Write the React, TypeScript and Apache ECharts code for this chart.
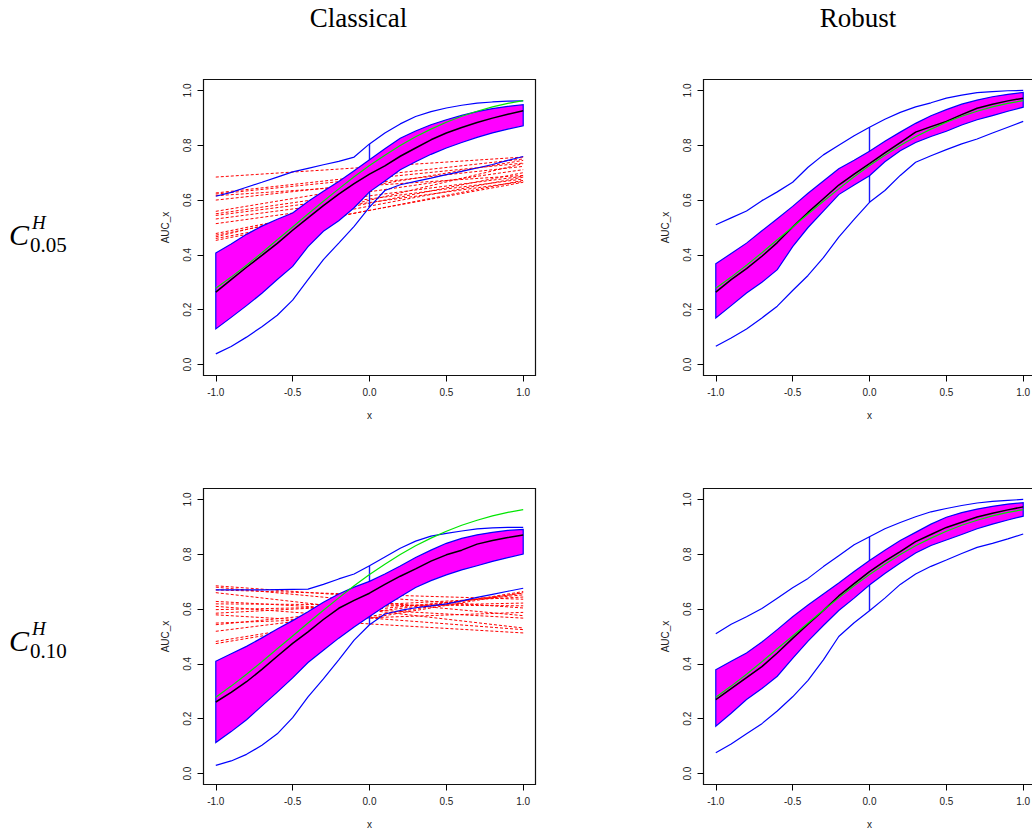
import React, { useEffect, useRef } from "react";
import * as echarts from "echarts";

// ---- shared x grid and tick labels ----
const XS = [-1, -0.9, -0.8, -0.7, -0.6, -0.5, -0.4, -0.3, -0.2, -0.1, 0, 0.1, 0.2, 0.3, 0.4, 0.5, 0.6, 0.7, 0.8, 0.9, 1];
const X_TICKS = [-1, -0.5, 0, 0.5, 1];
const Y_TICKS = [0, 0.2, 0.4, 0.6, 0.8, 1];
const COL_TITLES = ["Classical", "Robust"];
const ROW_SUBSCRIPTS = ["0.05", "0.10"];

// ---- true AUC curve (green), same in every panel ----
const TRUE_AUC = [0.278, 0.319, 0.362, 0.408, 0.455, 0.502, 0.549, 0.596, 0.641, 0.685, 0.726, 0.764, 0.799, 0.831, 0.859, 0.884, 0.906, 0.924, 0.94, 0.953, 0.963];

// ---- Classical, C 0.05 ----
const TL_UPPER_OUTER = [0.614, 0.628, 0.647, 0.665, 0.684, 0.703, 0.716, 0.729, 0.741, 0.757, 0.805, 0.845, 0.878, 0.905, 0.923, 0.936, 0.946, 0.954, 0.958, 0.961, 0.962];
const TL_LOWER_OUTER = [0.039, 0.066, 0.1, 0.138, 0.18, 0.235, 0.31, 0.383, 0.443, 0.504, 0.574, 0.635, 0.656, 0.668, 0.68, 0.693, 0.705, 0.717, 0.73, 0.745, 0.759];
const TL_BAND_UPPER = [0.407, 0.44, 0.475, 0.505, 0.53, 0.553, 0.595, 0.632, 0.668, 0.707, 0.747, 0.787, 0.826, 0.852, 0.875, 0.893, 0.909, 0.923, 0.934, 0.942, 0.948];
const TL_BAND_LOWER = [0.13, 0.172, 0.215, 0.26, 0.31, 0.358, 0.43, 0.486, 0.525, 0.572, 0.63, 0.67, 0.711, 0.74, 0.767, 0.79, 0.81, 0.829, 0.845, 0.859, 0.871];
const TL_CENTRE = [0.264, 0.31, 0.355, 0.398, 0.442, 0.49, 0.535, 0.58, 0.622, 0.66, 0.695, 0.725, 0.76, 0.79, 0.82, 0.845, 0.865, 0.883, 0.899, 0.913, 0.926];
const TL_RED_START = [0.684, 0.626, 0.622, 0.616, 0.6, 0.559, 0.55, 0.544, 0.531, 0.514, 0.478, 0.472, 0.466, 0.46, 0.453];
const TL_RED_END = [0.757, 0.75, 0.735, 0.69, 0.723, 0.745, 0.711, 0.687, 0.677, 0.668, 0.7, 0.684, 0.733, 0.665, 0.672];

// ---- Robust, C 0.05 ----
const TR_UPPER_OUTER = [0.51, 0.535, 0.56, 0.598, 0.63, 0.665, 0.72, 0.765, 0.8, 0.835, 0.866, 0.895, 0.92, 0.94, 0.955, 0.972, 0.983, 0.992, 0.996, 0.999, 1.0];
const TR_LOWER_OUTER = [0.067, 0.097, 0.13, 0.17, 0.213, 0.27, 0.325, 0.39, 0.465, 0.53, 0.592, 0.635, 0.69, 0.738, 0.762, 0.784, 0.805, 0.823, 0.845, 0.866, 0.887];
const TR_BAND_UPPER = [0.368, 0.405, 0.443, 0.488, 0.532, 0.577, 0.625, 0.67, 0.714, 0.745, 0.778, 0.815, 0.848, 0.88, 0.908, 0.93, 0.95, 0.965, 0.977, 0.986, 0.993];
const TR_BAND_LOWER = [0.17, 0.215, 0.261, 0.3, 0.346, 0.43, 0.5, 0.56, 0.62, 0.655, 0.689, 0.74, 0.78, 0.81, 0.832, 0.851, 0.874, 0.893, 0.908, 0.924, 0.939];
const TR_CENTRE = [0.264, 0.31, 0.35, 0.395, 0.445, 0.502, 0.555, 0.605, 0.655, 0.695, 0.733, 0.772, 0.81, 0.848, 0.868, 0.887, 0.912, 0.935, 0.95, 0.962, 0.972];

// ---- Classical, C 0.10 ----
const BL_UPPER_OUTER = [0.67, 0.67, 0.67, 0.67, 0.671, 0.672, 0.673, 0.69, 0.71, 0.728, 0.758, 0.79, 0.822, 0.848, 0.866, 0.876, 0.885, 0.893, 0.896, 0.898, 0.898];
const BL_LOWER_OUTER = [0.03, 0.046, 0.07, 0.103, 0.145, 0.204, 0.28, 0.345, 0.415, 0.487, 0.543, 0.582, 0.595, 0.605, 0.612, 0.619, 0.63, 0.643, 0.654, 0.665, 0.676];
const BL_BAND_UPPER = [0.41, 0.437, 0.464, 0.495, 0.527, 0.558, 0.59, 0.625, 0.655, 0.68, 0.701, 0.728, 0.757, 0.788, 0.815, 0.84, 0.858, 0.871, 0.88, 0.887, 0.891];
const BL_BAND_LOWER = [0.113, 0.153, 0.196, 0.247, 0.297, 0.349, 0.405, 0.45, 0.494, 0.535, 0.573, 0.61, 0.645, 0.679, 0.704, 0.725, 0.743, 0.758, 0.774, 0.788, 0.801];
const BL_CENTRE = [0.261, 0.296, 0.335, 0.38, 0.428, 0.475, 0.517, 0.562, 0.603, 0.632, 0.658, 0.69, 0.72, 0.747, 0.775, 0.798, 0.815, 0.837, 0.85, 0.861, 0.87];
const BL_RED_START = [0.685, 0.68, 0.67, 0.66, 0.628, 0.619, 0.61, 0.598, 0.585, 0.579, 0.549, 0.543, 0.519, 0.482, 0.474];
const BL_RED_END = [0.604, 0.576, 0.636, 0.531, 0.567, 0.612, 0.525, 0.622, 0.644, 0.513, 0.588, 0.652, 0.658, 0.664, 0.66];

// ---- Robust, C 0.10 ----
const BR_UPPER_OUTER = [0.51, 0.545, 0.572, 0.602, 0.64, 0.678, 0.712, 0.755, 0.795, 0.835, 0.864, 0.893, 0.916, 0.937, 0.955, 0.967, 0.978, 0.987, 0.993, 0.997, 1.0];
const BR_LOWER_OUTER = [0.076, 0.108, 0.145, 0.182, 0.228, 0.28, 0.34, 0.415, 0.5, 0.55, 0.594, 0.64, 0.69, 0.728, 0.756, 0.779, 0.803, 0.825, 0.84, 0.856, 0.874];
const BR_BAND_UPPER = [0.379, 0.41, 0.44, 0.48, 0.525, 0.572, 0.615, 0.655, 0.695, 0.737, 0.777, 0.815, 0.85, 0.88, 0.91, 0.935, 0.952, 0.965, 0.975, 0.983, 0.988];
const BR_BAND_LOWER = [0.173, 0.22, 0.27, 0.31, 0.355, 0.42, 0.483, 0.54, 0.595, 0.64, 0.688, 0.73, 0.768, 0.805, 0.832, 0.852, 0.872, 0.893, 0.91, 0.925, 0.939];
const BR_CENTRE = [0.27, 0.31, 0.35, 0.39, 0.44, 0.493, 0.545, 0.595, 0.648, 0.693, 0.737, 0.775, 0.81, 0.846, 0.872, 0.898, 0.917, 0.936, 0.95, 0.962, 0.973];

const PANELS = [
  { upperOuter: TL_UPPER_OUTER, lowerOuter: TL_LOWER_OUTER, bandUpper: TL_BAND_UPPER, bandLower: TL_BAND_LOWER, centre: TL_CENTRE, redStart: TL_RED_START, redEnd: TL_RED_END, left: 203.5, top: 79.5 },
  { upperOuter: TR_UPPER_OUTER, lowerOuter: TR_LOWER_OUTER, bandUpper: TR_BAND_UPPER, bandLower: TR_BAND_LOWER, centre: TR_CENTRE, redStart: null, redEnd: null, left: 703.5, top: 79.5 },
  { upperOuter: BL_UPPER_OUTER, lowerOuter: BL_LOWER_OUTER, bandUpper: BL_BAND_UPPER, bandLower: BL_BAND_LOWER, centre: BL_CENTRE, redStart: BL_RED_START, redEnd: BL_RED_END, left: 203.5, top: 488.5 },
  { upperOuter: BR_UPPER_OUTER, lowerOuter: BR_LOWER_OUTER, bandUpper: BR_BAND_UPPER, bandLower: BR_BAND_LOWER, centre: BR_CENTRE, redStart: null, redEnd: null, left: 703.5, top: 488.5 },
];

const GRID_W = 332;
const GRID_H = 296;
const SANS = "Liberation Sans, Arial, Helvetica, sans-serif";
const SERIF = "Liberation Serif, Times New Roman, serif";

function pairs(ys: number[]) {
  return XS.map((x, i) => [x, ys[i]]);
}

function buildOption() {
  const grid: any[] = [];
  const xAxis: any[] = [];
  const yAxis: any[] = [];
  const series: any[] = [];
  const zeroIdx = XS.indexOf(0);

  PANELS.forEach((p, g) => {
    grid.push({
      left: p.left,
      top: p.top,
      width: GRID_W,
      height: GRID_H,
      show: true,
      borderColor: "#111",
      borderWidth: 1.2,
      backgroundColor: "transparent",
      containLabel: false,
      outerBoundsMode: "none",
    });
    xAxis.push({
      type: "value",
      gridIndex: g,
      min: -1.08,
      max: 1.08,
      axisLine: { show: false, onZero: false },
      splitLine: { show: false },
      axisTick: { show: true, customValues: X_TICKS, length: 6, lineStyle: { color: "#000", width: 1 } },
      axisLabel: {
        customValues: X_TICKS,
        formatter: (v: number) => v.toFixed(1),
        fontSize: 10,
        fontFamily: SANS,
        color: "#222",
        margin: 12,
      },
      name: "x",
      nameLocation: "middle",
      nameGap: 35,
      nameTextStyle: { fontSize: 10, fontFamily: SANS, color: "#222" },
    });
    yAxis.push({
      type: "value",
      gridIndex: g,
      min: -0.04,
      max: 1.04,
      axisLine: { show: false, onZero: false },
      splitLine: { show: false },
      axisTick: { show: true, customValues: Y_TICKS, length: 6, lineStyle: { color: "#000", width: 1 } },
      axisLabel: {
        customValues: Y_TICKS,
        formatter: (v: number) => v.toFixed(1),
        fontSize: 10,
        fontFamily: SANS,
        color: "#222",
        margin: 11,
        rotate: 90,
      },
      name: "AUC_x",
      nameLocation: "middle",
      nameGap: 33,
      nameRotate: 90,
      nameTextStyle: { fontSize: 10, fontFamily: SANS, color: "#222" },
    });

    const common = { xAxisIndex: g, yAxisIndex: g, symbol: "none", silent: true, animation: false };

    if (p.redStart && p.redEnd) {
      p.redStart.forEach((s, j) => {
        series.push({
          ...common,
          type: "line",
          z: 1,
          data: [[XS[0], s], [XS[XS.length - 1], (p.redEnd as number[])[j]]],
          lineStyle: { color: "#FF0000", width: 1, type: [3, 2] },
        });
      });
    }

    // vertical segment at x = 0 between the outer envelopes
    series.push({
      ...common,
      type: "line",
      z: 1,
      data: [[XS[zeroIdx], p.upperOuter[zeroIdx]], [XS[zeroIdx], p.lowerOuter[zeroIdx]]],
      lineStyle: { color: "#1a1aff", width: 1.4 },
    });

    // magenta band polygon
    const poly = [...pairs(p.bandUpper), ...pairs(p.bandLower).reverse()];
    series.push({
      type: "custom",
      xAxisIndex: g,
      yAxisIndex: g,
      silent: true,
      z: 2,
      data: poly,
      renderItem: (params: any, api: any) => {
        if (params.dataIndex !== 0) return { type: "group", children: [] };
        const pts = poly.map((pt) => api.coord(pt));
        return {
          type: "polygon",
          shape: { points: pts },
          style: { fill: "#FF00FF", stroke: "#0000FF", lineWidth: 1.2 },
        };
      },
    });

    series.push({ ...common, type: "line", z: 3, data: pairs(p.upperOuter), lineStyle: { color: "#0000FF", width: 1.2 } });
    series.push({ ...common, type: "line", z: 3, data: pairs(p.lowerOuter), lineStyle: { color: "#0000FF", width: 1.2 } });
    series.push({ ...common, type: "line", z: 4, data: pairs(p.centre), lineStyle: { color: "#000000", width: 1.5 } });
    series.push({ ...common, type: "line", z: 5, data: pairs(TRUE_AUC), lineStyle: { color: "#00E600", width: 1.2 } });
  });

  const graphic: any[] = [];
  COL_TITLES.forEach((t, i) => {
    graphic.push({
      type: "text",
      x: i === 0 ? 358.5 : 858,
      y: 17.5,
      style: { text: t, fontSize: 27, fontFamily: SERIF, fill: "#000", textAlign: "center", textVerticalAlign: "middle" },
    });
  });
  ROW_SUBSCRIPTS.forEach((sub, r) => {
    const dy = r * 406;
    graphic.push({
      type: "text",
      x: 9,
      y: 234.5 + dy,
      style: { text: "C", fontSize: 30, lineHeight: 26, fontStyle: "italic", fontFamily: SERIF, fill: "#000", textAlign: "left", textVerticalAlign: "middle" },
    });
    graphic.push({
      type: "text",
      x: 32,
      y: 222 + dy,
      style: { text: "H", fontSize: 19, lineHeight: 15, fontStyle: "italic", fontFamily: SERIF, fill: "#000", textAlign: "left", textVerticalAlign: "middle" },
    });
    graphic.push({
      type: "text",
      x: 30,
      y: 245 + dy,
      style: { text: sub, fontSize: 21, lineHeight: 15, fontFamily: SERIF, fill: "#000", textAlign: "left", textVerticalAlign: "middle" },
    });
  });

  return {
    animation: false,
    backgroundColor: "#ffffff",
    textStyle: { fontFamily: SANS },
    grid,
    xAxis,
    yAxis,
    series,
    graphic,
  };
}

export default function App() {
  const ref = useRef<HTMLDivElement>(null);
  useEffect(() => {
    document.body.style.margin = "0";
    document.body.style.overflow = "hidden";
    if (!ref.current) return;
    const chart = echarts.init(ref.current, null, { renderer: "svg" });
    chart.setOption(buildOption() as any);
    return () => chart.dispose();
  }, []);
  return <div ref={ref} style={{ width: 1032, height: 836 }} />;
}
